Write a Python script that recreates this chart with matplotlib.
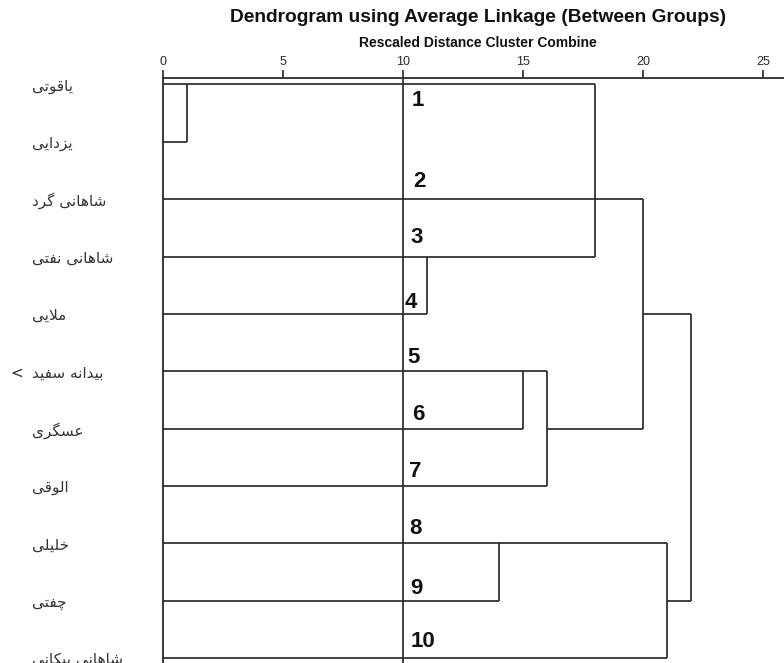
import numpy as np
import matplotlib
matplotlib.use("Agg")
import matplotlib.pyplot as plt
from matplotlib.transforms import blended_transform_factory

# leaf labels (top to bottom), logical Persian order
labels = ["یاقوتی", "یزدایی", "شاهانی گرد", "شاهانی نفتی", "ملایی",
          "بیدانه سفید", "عسگری", "الوقی", "خلیلی", "چفتی", "شاهانی پیکانی"]
truncated = [False, False, False, False, False, True, False, False, False, False, False]

# distance where each leaf's horizontal line ends
leaf_end = [18, 1, 20, 18, 11, 16, 15, 16, 21, 14, 21]

# vertical joins: (distance, first row, last row)
joins = [(1, 0, 1), (11, 3, 4), (18, 0, 3), (15, 5, 6), (16, 5, 7),
         (20, 2, 6), (14, 8, 9), (21, 8, 10), (22, 4, 9)]

# extra horizontal links: (row, from distance, to distance)
links = [(6, 16, 20), (4, 20, 22), (9, 21, 22)]

# numbered annotations next to the reference line at 10
numbers = ["1", "2", "3", "4", "5", "6", "7", "8", "9", "10"]
number_rows = [0.28, 1.69, 2.67, 3.8, 4.76, 5.76, 6.75, 7.75, 8.78, 9.72]
number_x = [10.38, 10.42, 10.33, 10.08, 10.2, 10.38, 10.25, 10.25, 10.3, 10.3]

ticks = [0, 5, 10, 15, 20, 25]

# --- minimal Arabic/Persian shaping (matplotlib has no RTL layout) ---
# isolated, final, initial, medial
FORMS = {
    "\u0627": ("\uFE8D", "\uFE8E", None, None),
    "\u0628": ("\uFE8F", "\uFE90", "\uFE91", "\uFE92"),
    "\u067E": ("\uFB56", "\uFB57", "\uFB58", "\uFB59"),
    "\u062A": ("\uFE95", "\uFE96", "\uFE97", "\uFE98"),
    "\u0686": ("\uFB7A", "\uFB7B", "\uFB7C", "\uFB7D"),
    "\u062E": ("\uFEA5", "\uFEA6", "\uFEA7", "\uFEA8"),
    "\u062F": ("\uFEA9", "\uFEAA", None, None),
    "\u0631": ("\uFEAD", "\uFEAE", None, None),
    "\u0632": ("\uFEAF", "\uFEB0", None, None),
    "\u0633": ("\uFEB1", "\uFEB2", "\uFEB3", "\uFEB4"),
    "\u0634": ("\uFEB5", "\uFEB6", "\uFEB7", "\uFEB8"),
    "\u0639": ("\uFEC9", "\uFECA", "\uFECB", "\uFECC"),
    "\u0641": ("\uFED1", "\uFED2", "\uFED3", "\uFED4"),
    "\u0642": ("\uFED5", "\uFED6", "\uFED7", "\uFED8"),
    "\u06A9": ("\uFB8E", "\uFB8F", "\uFB90", "\uFB91"),
    "\u06AF": ("\uFB92", "\uFB93", "\uFB94", "\uFB95"),
    "\u0644": ("\uFEDD", "\uFEDE", "\uFEDF", "\uFEE0"),
    "\u0645": ("\uFEE1", "\uFEE2", "\uFEE3", "\uFEE4"),
    "\u0646": ("\uFEE5", "\uFEE6", "\uFEE7", "\uFEE8"),
    "\u0647": ("\uFEE9", "\uFEEA", "\uFEEB", "\uFEEC"),
    "\u0648": ("\uFEED", "\uFEEE", None, None),
    "\u06CC": ("\uFBFC", "\uFBFD", "\uFBFE", "\uFBFF"),
}


def dual(c):
    return c in FORMS and FORMS[c][2] is not None


def shape(text):
    out = []
    i = 0
    while i < len(text):
        c = text[i]
        prev = text[i - 1] if i > 0 else None
        nxt = text[i + 1] if i + 1 < len(text) else None
        if c not in FORMS:
            out.append(c)
            i += 1
            continue
        jp = dual(prev)
        if c == "\u0644" and nxt == "\u0627":
            out.append("\uFEFC" if jp else "\uFEFB")
            i += 2
            continue
        jn = dual(c) and nxt in FORMS
        iso, fin, ini, med = FORMS[c]
        if jp and jn:
            out.append(med)
        elif jp:
            out.append(fin)
        elif jn:
            out.append(ini)
        else:
            out.append(iso)
        i += 1
    return "".join(reversed(out))


W, H = 784, 663
fig = plt.figure(figsize=(W / 100, H / 100), dpi=100)
ax = fig.add_axes([163 / W, 0, 1 - 163 / W, 585 / H])

line_kw = dict(color="#2b2b2b", lw=1.25, solid_capstyle="butt")

rows = np.arange(len(labels))
for r, x1 in zip(rows, leaf_end):
    ax.plot([0, x1], [r, r], **line_kw)
for x, r0, r1 in joins:
    ax.plot([x, x], [r0, r1], **line_kw)
for r, x0, x1 in links:
    ax.plot([x0, x1], [r, r], **line_kw)

ax.axvline(10, **line_kw)

for t, r, x in zip(numbers, number_rows, number_x):
    ax.text(x, r, t, fontsize=16, fontweight="bold", family="Liberation Sans",
            ha="left", va="center", color="#111")

ax.set_xlim(0, 621 / 24)
ax.set_ylim(10.087, -0.113)
ax.set_yticks([])
ax.xaxis.tick_top()
ax.set_xticks(ticks)
ax.tick_params(axis="x", direction="out", length=6, width=1.2, pad=1.5,
               labelsize=9, colors="#2b2b2b")
for lab in ax.get_xticklabels():
    lab.set_family(["Liberation Sans Narrow", "Liberation Sans"])
for s in ["right", "bottom"]:
    ax.spines[s].set_visible(False)
for s in ["top", "left"]:
    ax.spines[s].set_linewidth(1.3)
    ax.spines[s].set_color("#2b2b2b")

trans = blended_transform_factory(fig.transFigure, ax.transData)
for r, lab, tr in zip(rows, labels, truncated):
    ax.text(32 / W, r + 0.03, shape(lab), transform=trans, ha="left", va="center",
            fontsize=11, family="DejaVu Sans", color="#333", clip_on=False)
    if tr:
        ax.text(10 / W, r + 0.03, "<", transform=trans, ha="left", va="center",
                fontsize=11, family="DejaVu Sans", color="#333", clip_on=False)

fig.text(478 / W, 1 - 18 / H, "Dendrogram using Average Linkage (Between Groups)",
         ha="center", va="center", fontsize=13.8, fontweight="bold",
         family="Liberation Sans", color="#111")
fig.text(478 / W, 1 - 43 / H, "Rescaled Distance Cluster Combine",
         ha="center", va="center", fontsize=10, fontweight="bold",
         family=["Liberation Sans Narrow", "Liberation Sans"], color="#111")

fig.savefig("out.png", dpi=100, facecolor="white")
